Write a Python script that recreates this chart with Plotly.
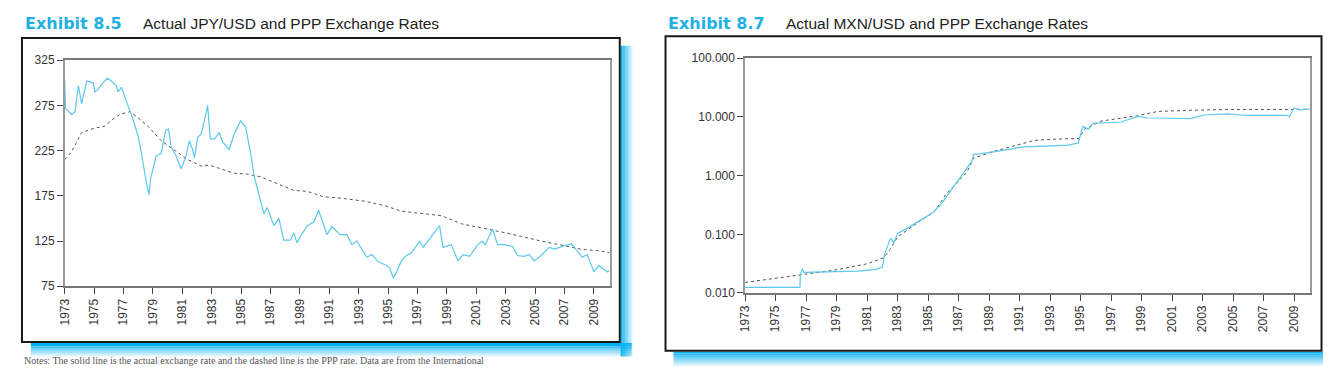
import plotly.graph_objects as go

# ---------------- data ----------------
jpy_years = [1973.0, 1973.05, 1973.47, 1973.7, 1973.93, 1974.15, 1974.49, 1974.94, 1975.05, 1975.28,
             1975.6, 1975.9, 1976.18, 1976.5, 1976.63, 1976.86, 1977.2, 1977.53, 1977.98, 1978.2,
             1978.55, 1978.73, 1978.84, 1979.22, 1979.56, 1979.79, 1979.86, 1980.06, 1980.24, 1980.58,
             1980.92, 1981.25, 1981.48, 1981.7, 1981.82, 1982.05, 1982.27, 1982.5, 1982.72, 1982.9,
             1983.2, 1983.5, 1983.73, 1984.18, 1984.52, 1984.97, 1985.3, 1985.65, 1985.88, 1986.33,
             1986.55, 1986.78, 1987.23, 1987.57, 1987.9, 1988.36, 1988.58, 1988.8, 1989.03, 1989.5,
             1989.94, 1990.27, 1990.84, 1991.18, 1991.5, 1991.74, 1992.2, 1992.53, 1992.87, 1993.21,
             1993.55, 1993.89, 1994.33, 1994.9, 1995.1, 1995.35, 1995.58, 1995.9, 1996.24, 1996.59,
             1997.15, 1997.38, 1997.94, 1998.5, 1998.73, 1999.3, 1999.75, 2000.1, 2000.54, 2001.1,
             2001.4, 2001.6, 2002.1, 2002.45, 2002.9, 2003.47, 2003.8, 2004.25, 2004.6, 2004.94,
             2005.4, 2005.95, 2006.3, 2006.96, 2007.46, 2007.76, 2008.2, 2008.54, 2009.0, 2009.34,
             2009.9, 2010.05]
jpy_actual = [302, 272, 265, 268, 297, 277, 302, 300, 290, 293,
              300, 305, 302, 297, 290, 295, 279, 265, 242, 224,
              190, 176, 194, 219, 222, 242, 247, 249, 229, 219,
              205, 219, 236, 226, 217, 240, 243, 258, 275, 238,
              238, 245, 235, 226, 243, 258, 251, 222, 197, 169,
              155, 162, 142, 150, 126, 126, 134, 123, 130, 142,
              146, 159, 132, 141, 136, 132, 132, 121, 125, 116,
              107, 110, 102, 98, 95, 84, 91, 103, 109, 112,
              125, 118, 130, 142, 118, 121, 103, 110, 108, 121,
              125, 121, 138, 121, 121, 119, 109, 108, 110, 103,
              109, 118, 116, 119, 122, 116, 107, 110, 91, 98,
              91, 92]

jpy_ppp_years = [1973.0, 1973.47, 1974.15, 1975.05, 1975.73, 1976.2, 1976.74, 1977.42, 1977.87, 1978.66,
                 1979.56, 1980.46, 1981.37, 1982.27, 1982.83, 1983.4, 1984.52, 1985.4, 1986.33, 1987.23,
                 1988.58, 1989.5, 1990.6, 1991.74, 1993.43, 1994.8, 1995.9, 1997.3, 1998.64, 2000.0,
                 2001.6, 2002.72, 2004.1, 2005.4, 2006.96, 2008.1, 2009.45, 2010.05]
jpy_ppp = [215, 224, 245, 250, 252, 259, 265, 268, 263, 252,
           236, 226, 215, 208, 209, 206, 200, 199, 196, 190,
           181, 180, 174, 172.5, 169, 164, 158, 155.5, 153, 144,
           139, 135, 130, 125, 120, 116, 114, 112]

mxn_years = [1973.0, 1976.6, 1976.62, 1976.75, 1976.85, 1978.5, 1980.4, 1981.5, 1982.0, 1982.15,
             1982.4, 1982.54, 1982.75, 1983.0, 1983.6, 1984.3, 1985.37, 1985.9, 1986.9, 1987.87,
             1987.98, 1988.4, 1989.5, 1991.35, 1994.2, 1994.85, 1995.15, 1995.5, 1995.8, 1997.66,
             1998.75, 1999.4, 2000.7, 2002.2, 2003.1, 2004.6, 2005.9, 2008.5, 2008.7, 2009.0,
             2009.4, 2010.0]
mxn_actual = [0.0125, 0.0125, 0.0205, 0.026, 0.0225, 0.0228, 0.0235, 0.025, 0.0277, 0.046,
              0.07, 0.086, 0.071, 0.104, 0.125, 0.16, 0.24, 0.34, 0.78, 1.76,
              2.3, 2.35, 2.6, 3.1, 3.3, 3.6, 6.9, 6.2, 7.8, 8.2,
              10.2, 9.6, 9.5, 9.4, 10.8, 11.3, 10.6, 10.7, 10.2, 14.2,
              13.2, 13.6]

mxn_ppp_years = [1973.0, 1974.9, 1976.6, 1978.85, 1981.0, 1982.1, 1982.5, 1983.0, 1984.5, 1985.4,
                 1986.2, 1987.55, 1987.98, 1988.4, 1989.2, 1992.0, 1993.5, 1994.9, 1995.25, 1996.35,
                 1998.75, 2000.05, 2002.2, 2004.4, 2008.7, 2010.0]
mxn_ppp = [0.0151, 0.0177, 0.0202, 0.0245, 0.0314, 0.04, 0.055, 0.09, 0.17, 0.24,
           0.49, 1.15, 2.0, 2.15, 2.55, 4.0, 4.2, 4.3, 6.2, 8.5,
           10.5, 12.4, 13.0, 13.4, 13.4, 13.6]

year_ticks = list(range(1973, 2010, 2))
year_labels = [str(y) for y in year_ticks]
jpy_ticks = [75, 125, 175, 225, 275, 325]
mxn_ticks = [0.01, 0.1, 1, 10, 100]
mxn_labels = ["0.010", "0.100", "1.000", "10.000", "100.000"]

titles = [("Exhibit 8.5", "Actual JPY/USD and PPP Exchange Rates"),
          ("Exhibit 8.7", "Actual MXN/USD and PPP Exchange Rates")]
note = ("Notes: The solid line is the actual exchange rate and the dashed line is the PPP rate. "
        "Data are from the International")

# ---------------- figure ----------------
# the page keeps an 8px body margin, so the paper is made 16px smaller and
# image pixels are converted to paper fractions with that offset
OFF = 8
W, H = 1331 - 2 * OFF, 383 - 2 * OFF
def px(x): return (x - OFF) / W
def py(y): return 1 - (y - OFF) / H

ACT = "#5cc8ee"
PPP = "#555555"
CYAN = "#00aeef"
FONT = "Liberation Sans, Arial, sans-serif"

fig = go.Figure()
fig.add_trace(go.Scatter(x=jpy_ppp_years, y=jpy_ppp, mode="lines", xaxis="x", yaxis="y",
                         line=dict(color=PPP, width=1, dash="3px,3px"), showlegend=False))
fig.add_trace(go.Scatter(x=jpy_years, y=jpy_actual, mode="lines", xaxis="x", yaxis="y",
                         line=dict(color=ACT, width=1.2), showlegend=False))
fig.add_trace(go.Scatter(x=mxn_ppp_years, y=mxn_ppp, mode="lines", xaxis="x2", yaxis="y2",
                         line=dict(color=PPP, width=1, dash="3px,3px"), showlegend=False))
fig.add_trace(go.Scatter(x=mxn_years, y=mxn_actual, mode="lines", xaxis="x2", yaxis="y2",
                         line=dict(color=ACT, width=1.2), showlegend=False))

tickfont = dict(family=FONT, size=12, color="#333333")
xcommon = dict(tickmode="array", tickvals=year_ticks, ticktext=year_labels, tickangle=-90,
               ticks="outside", ticklen=6, tickcolor="#444", showgrid=False, zeroline=False,
               showline=True, linecolor="#777", linewidth=1.5, mirror=True, tickfont=tickfont)
ycommon = dict(ticks="outside", ticklen=6, tickcolor="#444", showgrid=False, zeroline=False,
               showline=True, linecolor="#9a9a9a", linewidth=1.5, mirror=True, tickfont=tickfont)

fig.update_layout(
    width=W, height=H, margin=dict(l=0, r=0, t=0, b=0),
    paper_bgcolor="white", plot_bgcolor="white",
    xaxis=dict(domain=[px(58), px(606)], range=[1973, 2010.08], anchor="y", **xcommon),
    yaxis=dict(domain=[py(290), py(55)], range=[75, 325], tickvals=jpy_ticks, anchor="x", **ycommon),
    xaxis2=dict(domain=[px(742), px(1310)], range=[1973, 2010.05], anchor="y2", **xcommon),
    yaxis2=dict(domain=[py(297), py(53)], type="log", range=[-2, 2], tickvals=mxn_ticks,
                ticktext=mxn_labels, anchor="x2", **ycommon),
)

shapes = []
def grad_band(x0, y0, x1, y1, horizontal, n=8):
    # cyan band fading to white
    for i in range(n):
        op = 1 - i / n
        if horizontal:
            a = y0 + (y1 - y0) * i / n
            b = y0 + (y1 - y0) * (i + 1) / n
            shapes.append(dict(type="rect", xref="paper", yref="paper", x0=px(x0), x1=px(x1),
                               y0=py(b), y1=py(a), fillcolor=CYAN, opacity=op * 0.95,
                               line=dict(width=0), layer="below"))
        else:
            a = x0 + (x1 - x0) * i / n
            b = x0 + (x1 - x0) * (i + 1) / n
            shapes.append(dict(type="rect", xref="paper", yref="paper", x0=px(a), x1=px(b),
                               y0=py(y1), y1=py(y0), fillcolor=CYAN, opacity=op * 0.95,
                               line=dict(width=0), layer="below"))

# left panel shadow and frame
grad_band(24, 349, 628, 363, True)
grad_band(617, 40, 629, 363, False)
shapes.append(dict(type="rect", xref="paper", yref="paper", x0=px(24), x1=px(617), y0=py(349), y1=py(352),
                   fillcolor=CYAN, line=dict(width=0), layer="below"))
shapes.append(dict(type="rect", xref="paper", yref="paper", x0=px(15), x1=px(616), y0=py(348), y1=py(32),
                   fillcolor="white", line=dict(color="#1a1a1a", width=2), layer="below"))
# right panel shadow and frame
grad_band(670, 358, 1324, 373, True)
shapes.append(dict(type="rect", xref="paper", yref="paper", x0=px(662), x1=px(1321.5), y0=py(357), y1=py(30),
                   fillcolor="white", line=dict(color="#1a1a1a", width=2), layer="below"))
fig.update_layout(shapes=shapes)

annotations = []
for (ex, title), x0 in zip(titles, [16, 662]):
    annotations.append(dict(text="<b>" + ex + "</b>", x=px(x0), y=py(17), xref="paper", yref="paper",
                            xanchor="left", yanchor="middle", showarrow=False,
                            font=dict(family="DejaVu Sans, sans-serif", size=16, color="#1fb1e3")))
    annotations.append(dict(text=title, x=px(x0 + 119), y=py(17), xref="paper", yref="paper",
                            xanchor="left", yanchor="middle", showarrow=False,
                            font=dict(family=FONT, size=15.5, color="#222222")))
annotations.append(dict(text=note, x=px(15), y=py(375), xref="paper", yref="paper",
                        xanchor="left", yanchor="bottom", showarrow=False,
                        font=dict(family="Liberation Serif, serif", size=10, color="#555")))
fig.update_layout(annotations=annotations)

fig.write_html("out.html", config={"displayModeBar": False})
